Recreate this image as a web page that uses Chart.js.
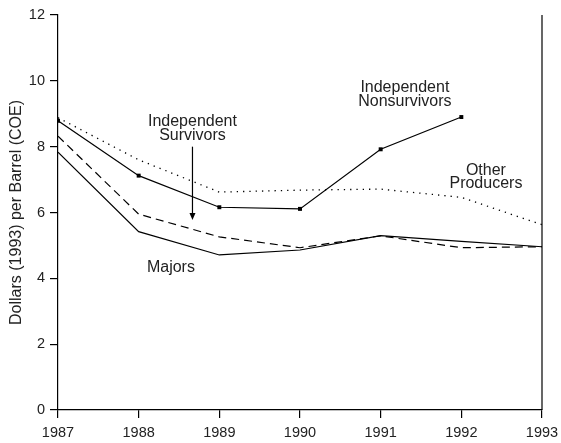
<!DOCTYPE html>
<html>
<head>
<meta charset="utf-8">
<script src="https://cdn.jsdelivr.net/npm/chart.js@4.4.1/dist/chart.umd.min.js"></script>
<style>
  html, body { margin: 0; padding: 0; background: #fff; }
  #wrap { width: 561px; height: 443px; }
</style>
</head>
<body>
<div id="wrap"><canvas id="myChart"></canvas></div>
<script>
// years on the x axis
var years = [1987, 1988, 1989, 1990, 1991, 1992, 1993];
// dollars (1993) per barrel
var nonsurvivors = [8.79, 7.12, 6.16, 6.11, 7.92, 8.9];
var otherProducers = [8.88, 7.6, 6.62, 6.68, 6.71, 6.46, 5.63];
var survivors = [8.32, 5.95, 5.26, 4.93, 5.29, 4.93, 4.96];
var majors = [7.83, 5.42, 4.71, 4.86, 5.3, 5.12, 4.96];
var yTicks = [0, 2, 4, 6, 8, 10, 12];

function pts(vals) {
  return vals.map(function (v, i) { return { x: years[i], y: v }; });
}

var FONT = 'Liberation Sans, Arial, sans-serif';

// text labels + arrow inside the plot
var labelsPlugin = {
  id: 'labels',
  afterDatasetsDraw: function (chart) {
    var c = chart.ctx, xs = chart.scales.x, ys = chart.scales.y, a = chart.chartArea;
    c.save();
    // right border
    c.strokeStyle = '#000';
    c.lineWidth = 1.2;
    c.beginPath();
    c.moveTo(a.right, a.top);
    c.lineTo(a.right, a.bottom);
    c.stroke();

    c.fillStyle = '#222';
    c.font = '16px ' + FONT;
    c.textAlign = 'center';
    c.textBaseline = 'middle';
    function txt(s, x, y) { c.fillText(s, xs.getPixelForValue(x), ys.getPixelForValue(y)); }
    txt('Independent', 1988.667, 8.77);
    txt('Survivors', 1988.667, 8.34);
    txt('Majors', 1988.4, 4.33);
    txt('Independent', 1991.3, 9.8);
    txt('Nonsurvivors', 1991.3, 9.36);
    txt('Other', 1992.305, 7.28);
    txt('Producers', 1992.305, 6.87);

    // arrow
    var ax = xs.getPixelForValue(1988.667);
    var y1 = ys.getPixelForValue(8.0), y2 = ys.getPixelForValue(5.77);
    c.beginPath();
    c.moveTo(ax, y1);
    c.lineTo(ax, y2 - 5);
    c.stroke();
    c.beginPath();
    c.moveTo(ax, y2);
    c.lineTo(ax - 3, y2 - 7);
    c.lineTo(ax + 3, y2 - 7);
    c.closePath();
    c.fillStyle = '#000';
    c.fill();
    c.restore();
  }
};

new Chart(document.getElementById('myChart'), {
  type: 'line',
  data: {
    datasets: [
      {
        label: 'Independent Nonsurvivors',
        data: pts(nonsurvivors),
        borderColor: '#000',
        borderWidth: 1.2,
        pointStyle: 'rect',
        pointRadius: 2.8,
        pointBackgroundColor: '#000',
        pointBorderColor: '#000',
        pointBorderWidth: 0
      },
      {
        label: 'Other Producers',
        data: pts(otherProducers),
        borderColor: '#000',
        borderWidth: 1.3,
        borderDash: [1.3, 5],
        pointRadius: 0
      },
      {
        label: 'Independent Survivors',
        data: pts(survivors),
        borderColor: '#000',
        borderWidth: 1.2,
        borderDash: [8, 5],
        pointRadius: 0
      },
      {
        label: 'Majors',
        data: pts(majors),
        borderColor: '#000',
        borderWidth: 1.2,
        pointRadius: 0
      }
    ]
  },
  options: {
    responsive: true,
    maintainAspectRatio: false,
    animation: false,
    layout: { padding: { top: 15, right: 19, left: 0, bottom: 0 } },
    plugins: { legend: { display: false }, tooltip: { enabled: false } },
    scales: {
      x: {
        type: 'linear',
        min: 1987,
        max: 1993,
        afterBuildTicks: function (s) { s.ticks = years.map(function (v) { return { value: v }; }); },
        afterFit: function (s) { s.height = 33; s.paddingLeft = 0; s.paddingRight = 0; },
        ticks: {
          color: '#222',
          font: { family: FONT, size: 14.5 },
          padding: 6,
          maxRotation: 0,
          callback: function (v) { return String(v); }
        },
        grid: { drawOnChartArea: false, drawTicks: true, tickLength: 8, color: '#000', lineWidth: 1.2 },
        border: { display: true, color: '#000', width: 1.2 }
      },
      y: {
        min: 0,
        max: 12,
        afterBuildTicks: function (s) { s.ticks = yTicks.map(function (v) { return { value: v }; }); },
        afterFit: function (s) { s.width = 58; s.paddingTop = 0; s.paddingBottom = 0; },
        ticks: {
          color: '#222',
          font: { family: FONT, size: 14.5 },
          padding: 5
        },
        grid: { drawOnChartArea: false, drawTicks: true, tickLength: 8, color: '#000', lineWidth: 1.2 },
        border: { display: true, color: '#000', width: 1.2 },
        title: {
          display: true,
          text: 'Dollars (1993) per Barrel (COE)',
          color: '#222',
          font: { family: FONT, size: 16 },
          padding: { top: 7, bottom: 2 }
        }
      }
    }
  },
  plugins: [labelsPlugin]
});
</script>
</body>
</html>
